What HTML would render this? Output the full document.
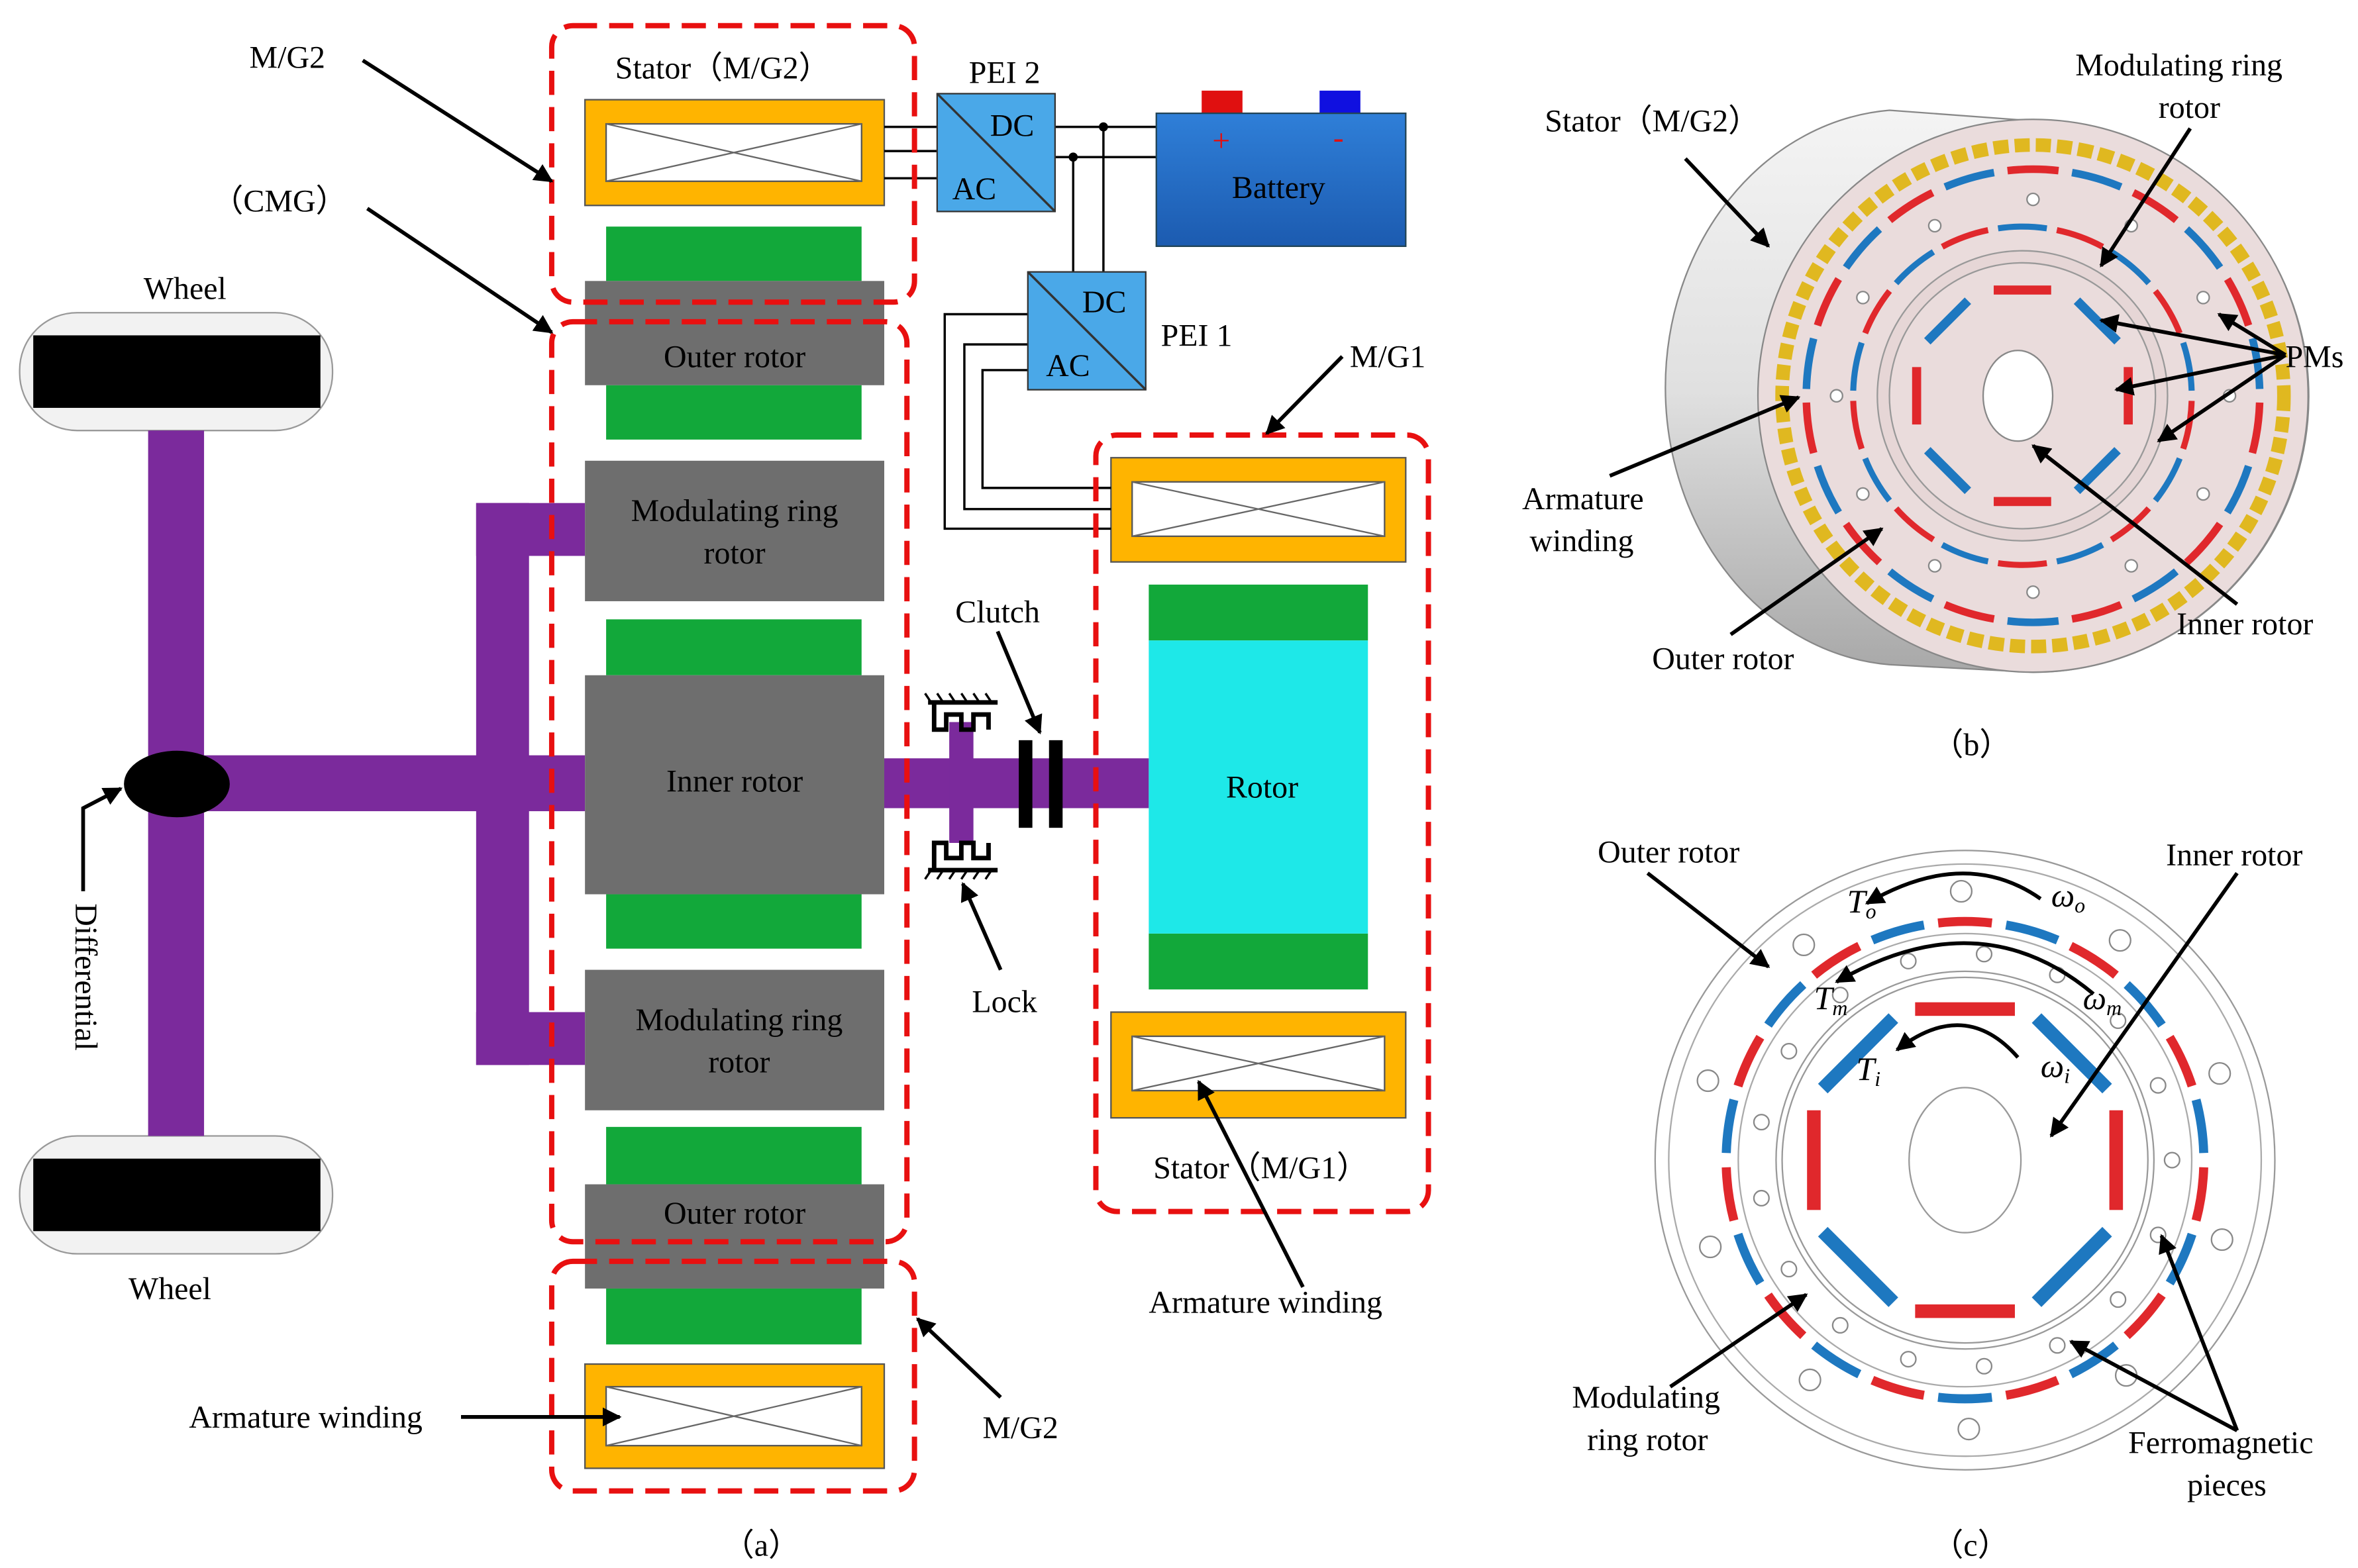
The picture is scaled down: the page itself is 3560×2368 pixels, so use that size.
<!DOCTYPE html>
<html><head><meta charset="utf-8"><style>
html,body{margin:0;padding:0;background:#fff}
svg{display:block}
text{font-family:"Liberation Serif",serif;fill:#000}
</style></head><body>
<svg id="s" xmlns="http://www.w3.org/2000/svg" width="3560" height="2368" viewBox="0 0 1560 1038" preserveAspectRatio="none">
<defs>
<marker id="ah" viewBox="0 0 10 10" refX="9" refY="5" markerWidth="5" markerHeight="5" orient="auto-start-reverse"><path d="M0,0 L10,5 L0,10 z" fill="#000"/></marker>
<linearGradient id="cyl" x1="0" y1="0" x2="0" y2="1"><stop offset="0" stop-color="#f4f4f4"/><stop offset="0.5" stop-color="#e0e0e0"/><stop offset="1" stop-color="#a8a8a8"/></linearGradient>
<linearGradient id="bl" x1="0" y1="0" x2="0" y2="1"><stop offset="0" stop-color="#2f7fd8"/><stop offset="1" stop-color="#1c5bb0"/></linearGradient>
</defs>
<rect x="13" y="207" width="207" height="78" rx="38" fill="#f2f2f2" stroke="#999"/>
<rect x="22" y="222" width="190" height="48" fill="#000"/>
<rect x="13" y="752" width="207" height="78" rx="38" fill="#f2f2f2" stroke="#999"/>
<rect x="22" y="767" width="190" height="48" fill="#000"/>
<g fill="#7b2a9c">
<rect x="98" y="285" width="37" height="467"/>
<rect x="117" y="500" width="270" height="37"/>
<rect x="315" y="333" width="35" height="372"/>
<rect x="315" y="333" width="72" height="35"/>
<rect x="315" y="670" width="72" height="35"/>
<rect x="585" y="502" width="175" height="33"/>
<rect x="628" y="478" width="16" height="80"/>
</g>
<ellipse cx="117" cy="519" rx="35" ry="22" fill="#000"/>
<rect x="674" y="490" width="9" height="58" fill="#000"/>
<rect x="694" y="490" width="9" height="58" fill="#000"/>
<g fill="none" stroke="#000" stroke-width="3">
<path d="M614,465 H660 M618,465 v18 h8 v-10 h10 v10 h8 v-10 h10 v10"/>
<path d="M614,576 H660 M618,576 v-18 h8 v10 h10 v-10 h8 v10 h10 v-10"/>
</g>
<g stroke="#000" stroke-width="1.5"><path d="M616,465 l-4,-6 M624,465 l-4,-6 M632,465 l-4,-6 M640,465 l-4,-6 M648,465 l-4,-6 M656,465 l-4,-6 M616,576 l-4,6 M624,576 l-4,6 M632,576 l-4,6 M640,576 l-4,6 M648,576 l-4,6 M656,576 l-4,6"/></g>
<g fill="#12a83a">
<rect x="401" y="150" width="169" height="36"/><rect x="401" y="255" width="169" height="36"/>
<rect x="401" y="410" width="169" height="37"/><rect x="401" y="592" width="169" height="36"/>
<rect x="401" y="746" width="169" height="38"/><rect x="401" y="853" width="169" height="37"/>
<rect x="760" y="387" width="145" height="37"/><rect x="760" y="618" width="145" height="37"/>
</g>
<rect x="760" y="424" width="145" height="194" fill="#1ee8e8"/>
<g fill="#6e6e6e">
<rect x="387" y="186" width="198" height="69"/><rect x="387" y="305" width="198" height="93"/>
<rect x="387" y="447" width="198" height="145"/><rect x="387" y="642" width="198" height="93"/>
<rect x="387" y="784" width="198" height="69"/>
</g>
<g stroke="#555" stroke-width="1">
<rect x="387" y="66" width="198" height="70" fill="#ffb400"/><rect x="401" y="82" width="169" height="38" fill="#fff"/>
<rect x="387" y="903" width="198" height="69" fill="#ffb400"/><rect x="401" y="918" width="169" height="39" fill="#fff"/>
<rect x="735" y="303" width="195" height="69" fill="#ffb400"/><rect x="749" y="319" width="167" height="36" fill="#fff"/>
<rect x="735" y="670" width="195" height="70" fill="#ffb400"/><rect x="749" y="686" width="167" height="36" fill="#fff"/>
</g>
<g stroke="#666" stroke-width="1">
<path d="M401,82 L570,120 M401,120 L570,82 M401,918 L570,957 M401,957 L570,918 M749,319 L916,355 M749,355 L916,319 M749,686 L916,722 M749,722 L916,686"/>
</g>
<g fill="none" stroke="#000" stroke-width="1.5">
<path d="M585,84 H620 M585,100 H620 M585,118 H620"/>
<path d="M698,84 H765 M698,104 H765 M730,84 V180 M710,104 V180"/>
<path d="M680,208 H625 V350 H735 M680,228 H638 V337 H735 M680,245 H650 V323 H735"/>
</g>
<circle cx="730" cy="84" r="3"/><circle cx="710" cy="104" r="3"/>
<rect x="620" y="62" width="78" height="78" fill="#4aa8e8" stroke="#333"/><path d="M620,62 L698,140" stroke="#333" stroke-width="1.5"/>
<rect x="680" y="180" width="78" height="78" fill="#4aa8e8" stroke="#333"/><path d="M680,180 L758,258" stroke="#333" stroke-width="1.5"/>
<rect x="795" y="60" width="27" height="16" fill="#e01010"/><rect x="873" y="60" width="27" height="16" fill="#1010e0"/>
<rect x="765" y="75" width="165" height="88" fill="url(#bl)" stroke="#245"/>
<g fill="none" stroke="#e81010" stroke-width="3.5" stroke-dasharray="16,8">
<rect x="365" y="17" width="240" height="183" rx="14"/>
<rect x="365" y="213" width="235" height="609" rx="14"/>
<rect x="365" y="835" width="240" height="152" rx="14"/>
<rect x="725" y="288" width="220" height="514" rx="14"/>
</g>
<g font-size="21">
<text x="165" y="45">M/G2</text><text x="140" y="140">（CMG）</text>
<text x="95" y="198">Wheel</text><text x="85" y="860">Wheel</text>
<text transform="translate(50,598) rotate(90)">Differential</text>
<text x="407" y="52">Stator（M/G2）</text><text x="641" y="55">PEI 2</text>
<text x="655" y="90">DC</text><text x="630" y="132">AC</text>
<text x="716" y="207">DC</text><text x="692" y="249">AC</text>
<text x="768" y="229">PEI 1</text><text x="893" y="243">M/G1</text>
<text x="815" y="131">Battery</text>
<text x="802" y="100" style="fill:#e01010">+</text><text x="882" y="98" style="fill:#e01010">-</text>
<text x="486" y="243" text-anchor="middle">Outer rotor</text>
<text x="486" y="345" text-anchor="middle">Modulating ring</text><text x="486" y="373" text-anchor="middle">rotor</text>
<text x="486" y="524" text-anchor="middle">Inner rotor</text>
<text x="489" y="682" text-anchor="middle">Modulating ring</text><text x="489" y="710" text-anchor="middle">rotor</text>
<text x="486" y="810" text-anchor="middle">Outer rotor</text>
<text x="835" y="528" text-anchor="middle">Rotor</text>
<text x="632" y="412">Clutch</text><text x="643" y="670">Lock</text>
<text x="763" y="780">Stator（M/G1）</text>
<text x="760" y="869">Armature winding</text>
<text x="125" y="945">Armature winding</text>
<text x="650" y="952">M/G2</text>
<text x="478" y="1030">（a）</text>
</g>
<g stroke="#000" stroke-width="2.5" fill="none" marker-end="url(#ah)">
<path d="M240,40 L365,120"/><path d="M243,138 L365,220"/>
<path d="M55,590 V535 L80,522"/>
<path d="M888,236 L838,287"/><path d="M660,418 L688,485"/>
<path d="M662,642 L637,585"/><path d="M305,938 L410,938"/>
<path d="M662,925 L607,873"/><path d="M862,852 L793,716"/>
</g>
<path d="M1250,73 L1345,80 A182,182 0 0 1 1345,445 L1250,440 A160,184 0 0 1 1250,73 z" fill="url(#cyl)" stroke="#888"/>
<ellipse cx="1345" cy="262" rx="182" ry="183" fill="#eadcdc" stroke="#888"/>
<g id="bg"></g>
<ellipse cx="1335" cy="262" rx="23" ry="30" fill="#fff" stroke="#888"/>
<g font-size="21">
<text x="1022" y="87">Stator（M/G2）</text>
<text x="1373" y="50">Modulating ring</text><text x="1428" y="78">rotor</text>
<text x="1512" y="243">PMs</text>
<text x="1007" y="337">Armature</text><text x="1012" y="365">winding</text>
<text x="1440" y="420">Inner rotor</text><text x="1093" y="443">Outer rotor</text>
<text x="1278" y="500">（b）</text>
</g>
<g stroke="#000" stroke-width="2.5" fill="none" marker-end="url(#ah)">
<path d="M1115,105 L1170,163"/><path d="M1449,85 L1390,176"/>
<path d="M1512,235 L1390,212"/><path d="M1512,235 L1400,258"/><path d="M1512,235 L1428,292"/><path d="M1512,235 L1468,208"/>
<path d="M1065,315 L1190,263"/><path d="M1145,420 L1245,350"/><path d="M1480,400 L1345,295"/>
</g>
<circle cx="1300" cy="768" r="205" fill="#fff" stroke="#999"/>
<g id="cg"></g>
<ellipse cx="1300" cy="768" rx="37" ry="48" fill="#fff" stroke="#999"/>
<g font-size="21">
<text x="1057" y="571">Outer rotor</text><text x="1433" y="573">Inner rotor</text>
<text x="1040" y="932">Modulating</text><text x="1050" y="960">ring rotor</text>
<text x="1408" y="962">Ferromagnetic</text><text x="1447" y="990">pieces</text>
<text x="1278" y="1030">（c）</text>
<g font-style="italic" font-size="22">
<text x="1222" y="604">T<tspan font-size="14" dy="4">o</tspan></text>
<text x="1357" y="600">ω<tspan font-size="14" dy="4">o</tspan></text>
<text x="1200" y="668">T<tspan font-size="14" dy="4">m</tspan></text>
<text x="1378" y="668">ω<tspan font-size="14" dy="4">m</tspan></text>
<text x="1228" y="715">T<tspan font-size="14" dy="4">i</tspan></text>
<text x="1350" y="713">ω<tspan font-size="14" dy="4">i</tspan></text>
</g></g>
<g stroke="#000" stroke-width="2.5" fill="none" marker-end="url(#ah)">
<path d="M1090,578 L1170,640"/><path d="M1480,578 L1357,752"/>
<path d="M1105,918 L1195,857"/><path d="M1480,947 L1430,818"/><path d="M1480,947 L1370,888"/>
<path d="M1350,595 Q1300,560 1235,598"/><path d="M1385,658 Q1310,595 1215,650"/><path d="M1335,700 Q1300,660 1255,695"/>
</g>
</svg>
<script>
var NS="http://www.w3.org/2000/svg";
function el(p,t,a){var e=document.createElementNS(NS,t);for(var k in a)e.setAttribute(k,a[k]);p.appendChild(e);return e;}
function arc(cx,cy,r,a0,a1){var x0=cx+r*Math.cos(a0),y0=cy+r*Math.sin(a0),x1=cx+r*Math.cos(a1),y1=cy+r*Math.sin(a1);return "M"+x0+","+y0+" A"+r+","+r+" 0 0 1 "+x1+","+y1;}
function ring(g,cx,cy,r,n,w){for(var i=0;i<n;i++){var a=i*2*Math.PI/n;el(g,"path",{d:arc(cx,cy,r,a+0.03,a+2*Math.PI/n-0.03),stroke:i%2?"#1e78c0":"#e0282c","stroke-width":w,fill:"none"});}}
function pms(g,cx,cy,d,L,w){for(var i=0;i<8;i++){var a=i*45;var gg=el(g,"g",{transform:"translate("+cx+","+cy+") rotate("+a+")"});el(gg,"rect",{x:d-w/2,y:-L/2,width:w,height:L,fill:i%2?"#1e78c0":"#e0282c"});}}
var b=document.getElementById("bg");
el(b,"circle",{cx:1345,cy:262,r:166,fill:"none",stroke:"#e0b820","stroke-width":9,"stroke-dasharray":"10,4"});
ring(b,1345,262,150,22,5);
for(var i=0;i<12;i++){var a=i*Math.PI/6;el(b,"circle",{cx:1345+130*Math.cos(a),cy:262+130*Math.sin(a),r:4,fill:"#fff",stroke:"#888"});}
ring(b,1338,262,112,18,4);
el(b,"circle",{cx:1338,cy:262,r:96,fill:"#e6d6d6",stroke:"#999"});
el(b,"circle",{cx:1338,cy:262,r:88,fill:"#eadcdc",stroke:"#999"});
pms(b,1338,262,70,38,6);
var c=document.getElementById("cg");
el(c,"circle",{cx:1300,cy:768,r:196,fill:"none",stroke:"#aaa"});
for(var i=0;i<10;i++){var a=i*Math.PI/5+0.3;el(c,"circle",{cx:1300+178*Math.cos(a),cy:768+178*Math.sin(a),r:7,fill:"#fff",stroke:"#888"});}
ring(c,1300,768,158,22,6);
el(c,"circle",{cx:1300,cy:768,r:150,fill:"none",stroke:"#aaa"});
for(var i=0;i<17;i++){var a=i*2*Math.PI/17;el(c,"circle",{cx:1300+137*Math.cos(a),cy:768+137*Math.sin(a),r:5,fill:"#fff",stroke:"#888"});}
el(c,"circle",{cx:1300,cy:768,r:125,fill:"none",stroke:"#999"});
el(c,"circle",{cx:1300,cy:768,r:121,fill:"none",stroke:"#999"});
pms(c,1300,768,100,66,9);
</script>
</body></html>
